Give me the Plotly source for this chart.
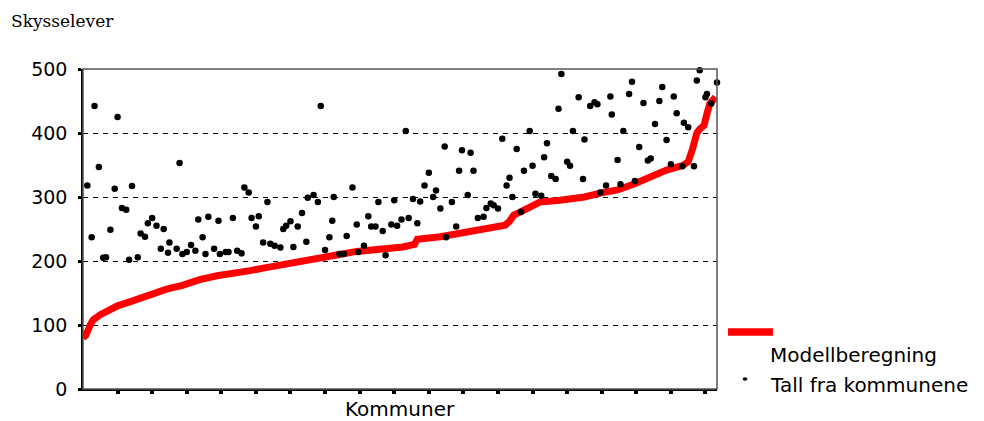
import plotly.graph_objects as go

# Model line (commune rank -> estimated pupils)
red_x = [0, 2, 5, 7, 12, 19, 24, 35, 46, 58, 69, 81, 93, 104, 116, 128, 139, 151, 162, 175,
         190, 211, 222, 230, 232, 248, 262, 277, 293, 296, 299, 303, 312, 317, 331, 348, 359,
         371, 382, 393, 405, 416, 420, 423, 426, 428, 431, 433, 435, 439]
red_y = [80, 84, 100, 108, 116, 124, 130, 138, 148, 156, 162, 171, 177, 180, 185, 190, 195, 198, 203, 209,
         215, 218, 222, 226, 234, 238, 244, 250, 256, 262, 272, 276, 285, 292, 295, 300, 306,
         311, 320, 331, 342, 349, 355, 375, 400, 406, 412, 430, 446, 456]

# Numbers reported by the communes
dots_x = [3, 6, 8, 11, 14, 16, 19, 22, 24, 27, 30, 32, 34, 38, 40, 43, 45, 48, 51, 54, 56, 59, 60, 65, 67, 69, 72, 75, 78, 80, 83, 85, 87,
          91, 94, 95, 99, 101, 104, 107, 110, 112, 115, 117, 120, 122, 125, 128, 130, 133, 137, 139, 141, 144, 146, 149, 152, 155, 156, 160, 163, 165, 168, 171, 173, 174,
          178, 181, 183, 187, 190, 191, 195, 198, 200, 203, 205, 208, 210, 214, 216, 218, 221, 224, 226, 229, 232, 234, 237, 240, 243, 245, 248, 251, 252, 256, 259,
          261, 263, 267, 269, 271, 274, 278, 280, 283, 285, 288, 291, 294, 296, 298, 301, 304, 306, 310, 312, 314, 318, 320, 322, 325, 328, 330, 332, 336, 338, 340, 344,
          347, 348, 352, 355, 357, 359, 363, 366, 367, 371, 373, 375, 379, 381, 383, 386, 389, 392, 394, 397, 400, 402, 405, 408, 410, 412, 416, 417, 420, 424, 426, 428, 432, 433, 436, 440]
dots_y = [318, 237, 442, 347, 205, 206, 249, 313, 425, 283, 280, 202, 317, 206, 243, 238, 259, 267, 255, 219, 250, 213, 229, 219, 353, 211, 214, 225, 216, 265, 237, 211, 269,
          219, 263, 211, 214, 214, 267, 216, 212, 315, 307, 267, 254, 270, 229, 292, 227, 224, 221, 250, 255, 262, 222, 254, 275, 230, 299, 303, 292, 442, 217, 237, 263, 300,
          211, 211, 239, 315, 257, 214, 224, 270, 254, 254, 292, 247, 209, 257, 295, 255, 265, 403, 267, 297, 259, 293, 318, 338, 300, 310, 282, 379, 237, 292, 254,
          341, 373, 303, 369, 341, 267, 269, 283, 290, 287, 282, 391, 318, 330, 300, 375, 277, 341, 403, 349, 305, 302, 362, 384, 333, 328, 438, 492, 355, 349, 403, 456,
          328, 390, 442, 448, 445, 307, 318, 457, 429, 358, 320, 403, 461, 480, 325, 378, 447, 357, 360, 414, 450, 472, 389, 351, 457, 431, 348, 416, 409, 348, 482, 498, 456, 461, 446, 479]

y_ticks = [0, 100, 200, 300, 400, 500]
x_ticks = list(range(24, 433, 24))

series_names = ["Modellberegning", "Tall fra kommunene"]
y_title = "Skysselever"
x_title = "Kommuner"

SANS = "DejaVu Sans"

fig = go.Figure()
fig.add_trace(go.Scatter(x=red_x, y=red_y, mode="lines", name=series_names[0],
                         line=dict(color="#ff0000", width=7), cliponaxis=False))
fig.add_trace(go.Scatter(x=dots_x, y=dots_y, mode="markers", name=series_names[1],
                         marker=dict(color="#000000", size=6.5), cliponaxis=False))

fig.update_layout(
    width=976, height=413,
    margin=dict(l=75, r=267, t=61, b=32, pad=0),
    paper_bgcolor="white", plot_bgcolor="white",
    showlegend=False,
    font=dict(family=SANS, size=19, color="#000000"),
    xaxis=dict(range=[0, 440], tickvals=x_ticks, showticklabels=False,
               ticks="outside", ticklen=3, tickwidth=4, tickcolor="#000000",
               showgrid=False, zeroline=False,
               showline=True, linecolor="#000000", linewidth=1.5),
    yaxis=dict(range=[0, 500], tickvals=y_ticks, ticks="outside", ticklen=3, tickwidth=3,
               tickcolor="#000000", ticklabelstandoff=7,
               showgrid=True, gridcolor="#000000", gridwidth=1, griddash="5px,5px",
               zeroline=False, showline=True, linecolor="#000000", linewidth=1.5,
               tickfont=dict(family=SANS, size=19)),
    shapes=[
        dict(type="rect", xref="paper", yref="paper", x0=0, x1=1, y0=0, y1=1,
             line=dict(color="#555555", width=1.5), layer="above"),
        # legend keys
        dict(type="line", xref="paper", yref="paper", x0=1.0174, x1=1.0883, y0=0.178, y1=0.178,
             line=dict(color="#ff0000", width=7.5)),
        dict(type="circle", xref="paper", yref="paper", x0=1.0405, x1=1.0480, y0=0.026, y1=0.037,
             fillcolor="#000000", line=dict(color="#000000", width=0)),
    ],
    annotations=[
        dict(text=y_title, xref="paper", yref="paper", x=-0.1167, y=1.15, xanchor="left", yanchor="middle",
             showarrow=False, font=dict(family="DejaVu Serif", size=17)),
        dict(text=x_title, xref="paper", yref="paper", x=0.5, y=-0.064, xanchor="center", yanchor="middle",
             showarrow=False, font=dict(family=SANS, size=20)),
        dict(text=series_names[0], xref="paper", yref="paper", x=1.0804, y=0.106, xanchor="left", yanchor="middle",
             showarrow=False, font=dict(family=SANS, size=20)),
        dict(text=series_names[1], xref="paper", yref="paper", x=1.0804, y=0.0125, xanchor="left", yanchor="middle",
             showarrow=False, font=dict(family=SANS, size=20)),
    ],
)

fig.write_html("out.html")
